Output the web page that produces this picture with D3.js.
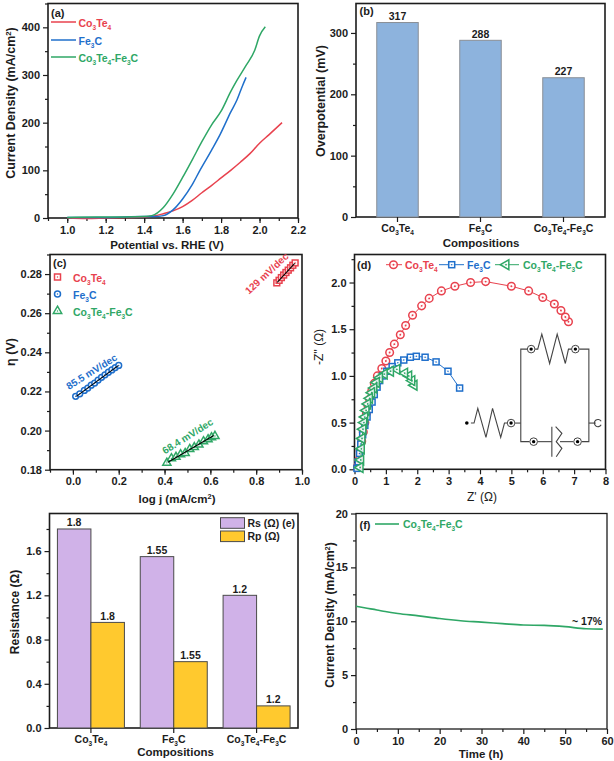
<!DOCTYPE html>
<html><head><meta charset="utf-8">
<script src="https://cdnjs.cloudflare.com/ajax/libs/d3/7.8.5/d3.min.js"></script>
<style>
html,body{margin:0;padding:0;background:#fff}
svg{display:block}
text{font-family:"Liberation Sans",Arial,sans-serif;font-weight:bold;fill:#1c1c1c}
</style></head><body>
<svg id="c" width="614" height="761"></svg>
<script>
// ---------- data ----------
const names = ["Co3Te4","Fe3C","Co3Te4-Fe3C"];
const lsvCo = [[1.0,0],[1.1,-1],[1.2,0],[1.3,1],[1.4,2],[1.45,4],[1.5,9],[1.55,15],[1.6,24],[1.65,37],[1.7,53],[1.75,68],[1.8,84],[1.85,100],[1.9,117],[1.95,135],[2.0,157],[2.05,175],[2.117,200]];
const lsvFe = [[1.0,1],[1.2,1],[1.4,3],[1.45,3],[1.5,5],[1.55,17],[1.6,40],[1.65,70],[1.69,100],[1.75,142],[1.796,176],[1.85,222],[1.883,248],[1.91,276],[1.93,295]];
const lsvCF = [[1.0,1],[1.15,2],[1.3,2],[1.4,3],[1.44,5],[1.5,22],[1.55,50],[1.6,85],[1.65,122],[1.7,160],[1.75,195],[1.8,224],[1.85,265],[1.88,287],[1.93,320],[1.975,352],[2.0,382],[2.03,401]];
const overpotential = [317,288,227];
const tafelCo = [[0.89,0.2755],[0.90,0.2768],[0.91,0.2782],[0.92,0.2795],[0.93,0.2808],[0.94,0.2820],[0.95,0.2832],[0.96,0.2845],[0.97,0.2857]];
const tafelFe = [[0.012,0.2175],[0.03,0.2188],[0.05,0.2205],[0.065,0.2217],[0.08,0.2232],[0.095,0.2243],[0.11,0.2258],[0.125,0.2272],[0.14,0.2285],[0.155,0.2298],[0.17,0.2310],[0.185,0.2322],[0.2,0.2333]];
const tafelCF = [[0.41,0.1835],[0.43,0.1858],[0.45,0.1865],[0.47,0.1878],[0.49,0.1885],[0.51,0.1905],[0.53,0.1915],[0.55,0.1928],[0.57,0.1945],[0.59,0.1955],[0.605,0.1965],[0.62,0.1972]];
const fitCo = [[0.892,0.2758],[0.968,0.2855]];
const fitFe = [[0.015,0.2175],[0.198,0.2332]];
const fitCF = [[0.415,0.1838],[0.615,0.1975]];
const nyqCo = [[6.82,1.58],[6.72,1.63],[6.58,1.70],[6.37,1.77],[6.0,1.84],[5.55,1.91],[5.0,1.96],[4.18,2.01],[3.7,2.0],[3.2,1.96],[2.77,1.91],[2.38,1.83],[2.14,1.75],[1.85,1.65],[1.63,1.54],[1.46,1.44],[1.27,1.34],[1.12,1.25],[1.0,1.16],[0.87,1.08],[0.73,1.0],[0.63,0.92],[0.55,0.84],[0.48,0.75],[0.43,0.68],[0.38,0.6],[0.33,0.5],[0.28,0.4],[0.23,0.3],[0.18,0.2],[0.14,0.1],[0.1,0.03]];
const nyqFe = [[3.35,0.87],[2.98,1.05],[2.6,1.15],[2.25,1.2],[1.97,1.21],[1.78,1.2],[1.57,1.17],[1.38,1.14],[1.2,1.1],[1.03,1.05],[0.9,1.0],[0.8,0.95],[0.72,0.88],[0.63,0.8],[0.56,0.72],[0.47,0.64],[0.4,0.56],[0.33,0.47],[0.26,0.37],[0.2,0.27],[0.16,0.17],[0.12,0.08],[0.08,0.01]];
const nyqCF = [[1.9,0.9],[1.83,0.95],[1.73,1.0],[1.6,1.03],[1.35,1.07],[1.15,1.05],[0.95,1.02],[0.8,0.98],[0.7,0.93],[0.62,0.87],[0.55,0.82],[0.48,0.76],[0.42,0.7],[0.37,0.63],[0.33,0.56],[0.3,0.5],[0.27,0.43],[0.24,0.33],[0.22,0.22],[0.2,0.1],[0.18,0.02]];
const circuitWires = [
 [[3.71,0.495],[3.81,0.495],[3.93,0.652],[4.19,0.342],[4.40,0.652],[4.66,0.342],[4.78,0.495],[4.88,0.495]],
 [[5.12,0.495],[5.30,0.495]],
 [[5.51,1.287],[5.30,1.287],[5.30,0.296],[5.58,0.296]],
 [[5.76,1.287],[5.84,1.287],[5.97,1.447],[6.22,1.133],[6.46,1.447],[6.72,1.133],[6.82,1.287],[6.93,1.287]],
 [[7.17,1.287],[7.47,1.287],[7.47,0.296],[7.24,0.296]],
 [[7.47,0.495],[7.69,0.495]],
 [[5.83,0.296],[6.29,0.296]],
 [[6.29,0.456],[6.29,0.135]],
 [[6.41,0.456],[6.61,0.385],[6.43,0.296],[6.61,0.224],[6.43,0.135]],
 [[6.55,0.296],[6.98,0.296]]
];
const circuitNodes = [[4.99,0.495],[5.63,1.287],[7.04,1.287],[5.71,0.296],[7.11,0.296]];
const circuitEnd = [3.58,0.495];
const rs = [1.8,1.55,1.2];
const rp = [0.955,0.6,0.2];
const rsLabels = ["1.8","1.55","1.2"];
const rpLabels = ["1.8","1.55","1.2"];
const stability = [[0,11.4],[2,11.25],[5,11.05],[7,10.9],[10,10.72],[15,10.5],[20,10.25],[25,10.05],[30,9.92],[35,9.78],[40,9.65],[45,9.62],[50,9.5],[55,9.3],[59,9.27]];

// ---------- style ----------
const RED="#e8424e", BLUE="#1f6fcb", GREEN="#2fa766", INK="#1c1c1c";
const svg=d3.select("#c");

function chem(t,str,size){ // digits become subscripts
  t.attr("font-size",size);
  const parts=str.match(/\d|[^\d]+/g);
  let sub=false;
  parts.forEach(p=>{
    const d=/\d/.test(p);
    const s=t.append("tspan").text(p);
    if(d){s.attr("font-size",size*0.62).attr("dy",size*0.3);sub=true;}
    else if(sub){s.attr("dy",-size*0.3);sub=false;}
  });
  return t;
}
function label(g,x,y,str,o={}){
  const t=g.append("text").attr("x",x).attr("y",y).attr("text-anchor",o.anchor||"start").attr("font-size",o.size||11);
  if(o.fill) t.style("fill",o.fill);
  if(o.rot!==undefined) t.attr("transform",`rotate(${o.rot} ${x} ${y})`);
  if(o.chem) chem(t,str,o.size||11); else t.text(str);
  return t;
}
function panel(p){
  const g=svg.append("g");
  const x=p.xBand?null:d3.scaleLinear().domain(p.xd).range([p.l,p.r]);
  const xi=d3.scaleLinear().domain([0.5,3.5]).range([p.l,p.r]);
  const y=d3.scaleLinear().domain(p.yd).range([p.b,p.t]);
  const fmt=p.xf||(d=>d);
  const ax=g.append("g").attr("transform",`translate(0,${p.b})`);
  if(x){
    ax.append("g").call(d3.axisBottom(x).tickValues(p.xMinor).tickSize(3).tickSizeOuter(0).tickFormat(""));
    ax.append("g").call(d3.axisBottom(x).tickValues(p.xMajor).tickSize(5).tickSizeOuter(0).tickPadding(3).tickFormat(fmt));
  }
  const ay=g.append("g").attr("transform",`translate(${p.l},0)`);
  ay.append("g").call(d3.axisLeft(y).tickValues(p.yMinor).tickSize(3).tickSizeOuter(0).tickFormat(""));
  ay.append("g").call(d3.axisLeft(y).tickValues(p.yMajor).tickSize(5).tickSizeOuter(0).tickPadding(3).tickFormat(p.yf||(d=>d)));
  g.selectAll(".domain").remove();
  g.selectAll(".tick line").attr("stroke",INK).attr("stroke-width",1.2);
  g.selectAll(".tick text").attr("font-size",11).attr("font-family",null).style("fill",INK);
  g.append("rect").attr("x",p.l).attr("y",p.t).attr("width",p.r-p.l).attr("height",p.b-p.t)
    .attr("fill","none").attr("stroke",INK).attr("stroke-width",p.frame||1.6);
  return {g,x,y,xi,b:p.b};
}
const line=(s,curve)=>d3.line().x(d=>s.x(d[0])).y(d=>s.y(d[1])).curve(curve||d3.curveLinear);
function yTitle(g,x,y,size){ // Current Density (mA/cm2)
  const t=g.append("text").attr("text-anchor","middle").attr("x",x).attr("y",y).attr("font-size",size)
    .attr("transform",`rotate(-90 ${x} ${y})`);
  t.append("tspan").text("Current Density (mA/cm");
  t.append("tspan").text("2").attr("font-size",size*0.62).attr("dy",-size*0.35);
  t.append("tspan").text(")").attr("dy",size*0.35);
}
function drawMarker(g,type,px,py,color,r){
  const s=g.append("g").attr("transform",`translate(${px},${py})`);
  const common=e=>e.attr("fill","#fff").attr("fill-opacity",.85).attr("stroke",color).attr("stroke-width",1.5);
  if(type==="circle") common(s.append("circle").attr("r",r));
  if(type==="square") common(s.append("rect").attr("x",-r).attr("y",-r).attr("width",2*r).attr("height",2*r));
  if(type==="up") common(s.append("path").attr("d",d3.symbol(d3.symbolTriangle,r*r*3.4)()));
  if(type==="left") common(s.append("path").attr("d",d3.symbol(d3.symbolTriangle,r*r*3.4)()).attr("transform","rotate(-90)"));
  s.append("circle").attr("r",Math.max(.7,r*.25)).attr("fill",color);
}

// ---------- (a) ----------
{
 const P=panel({l:48,r:298,t:3.5,b:218,xd:[0.9,2.2],yd:[0,450],
   xMajor:d3.range(1,2.21,0.2),xMinor:d3.range(0.9,2.21,0.1),xf:d3.format(".1f"),
   yMajor:[0,100,200,300,400],yMinor:[50,150,250,350,450]});
 [[lsvCo,RED],[lsvFe,BLUE],[lsvCF,GREEN]].forEach(([d,c])=>
   P.g.append("path").datum(d).attr("d",line(P,d3.curveMonotoneX)).attr("fill","none").attr("stroke",c).attr("stroke-width",1.5));
 label(P.g,51,17,"(a)",{size:11});
 [[22,RED],[40,BLUE],[57,GREEN]].forEach(([yy,c],i)=>{
   P.g.append("line").attr("x1",51).attr("x2",76).attr("y1",yy).attr("y2",yy).attr("stroke",c).attr("stroke-width",1.5);
   label(P.g,78.5,yy+4.5,names[i],{chem:true,size:10.5,fill:c});
 });
 yTitle(P.g,15,103,12.5);
 label(P.g,167,249,"Potential vs. RHE (V)",{anchor:"middle",size:11.5});
}
// ---------- (b) ----------
{
 const P=panel({l:356,r:605,t:3.5,b:217,xBand:true,yd:[0,348],
   yMajor:[0,100,200,300],yMinor:[50,150,250]});
 const w=(P.xi(1.5)-P.xi(1))*2*0.5;
 P.g.selectAll(".bar").data(overpotential).join("rect").attr("class","bar")
   .attr("x",(d,i)=>P.xi(i+1)-w/2).attr("width",w).attr("y",d=>P.y(d)).attr("height",d=>P.y(0)-P.y(d))
   .attr("fill","#8db3dd").attr("stroke","#8a8f96").attr("stroke-width",1);
 overpotential.forEach((v,i)=>{
   label(P.g,P.xi(i+1),P.y(v)-2.5,String(v),{anchor:"middle",size:10.5});
   P.g.append("line").attr("x1",P.xi(i+1)).attr("x2",P.xi(i+1)).attr("y1",P.b).attr("y2",P.b+5).attr("stroke",INK).attr("stroke-width",1.2);
   label(P.g,P.xi(i+1),P.b+15,names[i],{anchor:"middle",chem:true,size:10.5});
 });
 label(P.g,359.5,15,"(b)",{size:11});
 label(P.g,481,247,"Compositions",{anchor:"middle",size:11.5});
 label(P.g,325,101,"Overpotential (mV)",{anchor:"middle",size:12.5,rot:-90});
}
// ---------- (c) ----------
{
 const P=panel({l:50,r:302,t:254.5,b:469.7,xd:[-0.1,1.0],yd:[0.18,0.29],
   xMajor:[0,0.2,0.4,0.6,0.8,1.0],xMinor:d3.range(-0.1,1.01,0.1),xf:d3.format(".1f"),
   yMajor:[0.18,0.2,0.22,0.24,0.26,0.28],yMinor:[0.19,0.21,0.23,0.25,0.27,0.29],yf:d3.format(".2f")});
 [[tafelCo,"square",RED,fitCo],[tafelFe,"circle",BLUE,fitFe],[tafelCF,"up",GREEN,fitCF]].forEach(([d,m,c,f])=>{
   d.forEach(q=>drawMarker(P.g,m,P.x(q[0]),P.y(q[1]),c,2.9));
   P.g.append("path").datum(f).attr("d",line(P)).attr("fill","none").attr("stroke","#000").attr("stroke-width",1.1);
 });
 label(P.g,53,267,"(c)",{size:11});
 [[277,"square",RED],[294,"circle",BLUE],[311,"up",GREEN]].forEach(([yy,m,c],i)=>{
   drawMarker(P.g,m,57.5,yy,c,3);
   label(P.g,73,yy+4.5,names[i],{chem:true,size:10.5,fill:c});
 });
 label(P.g,P.x(0.7686),P.y(0.2694),"129 mV/dec",{size:10,fill:RED,rot:-43});
 label(P.g,P.x(-0.017),P.y(0.2208),"85.5 mV/dec",{size:10,fill:BLUE,rot:-32});
 label(P.g,P.x(0.402),P.y(0.1878),"68.4 mV/dec",{size:10,fill:GREEN,rot:-32});
 const t=label(P.g,177,503,"log j (mA/cm",{anchor:"middle",size:11.5});
 t.append("tspan").text("2").attr("font-size",7.5).attr("dy",-4);
 t.append("tspan").text(")").attr("dy",4);
 label(P.g,15,352,"η (V)",{anchor:"middle",size:12.5,rot:-90});
}
// ---------- (d) ----------
{
 const P=panel({l:354.5,r:605.5,t:254.5,b:469.3,xd:[0,8],yd:[0,2.3],
   xMajor:[0,1,2,3,4,5,6,7,8],xMinor:d3.range(0.5,8,1),
   yMajor:[0,0.5,1,1.5,2],yMinor:[0.25,0.75,1.25,1.75,2.25],yf:d3.format(".1f")});
 [[nyqCo,"circle",RED,3.8],[nyqFe,"square",BLUE,3],[nyqCF,"left",GREEN,3.5]].forEach(([d,m,c,r])=>{
   P.g.append("path").datum(d).attr("d",line(P)).attr("fill","none").attr("stroke",c).attr("stroke-width",1);
   d.forEach(q=>drawMarker(P.g,m,P.x(q[0]),P.y(q[1]),c,r));
 });
 label(P.g,357,269,"(d)",{size:11});
 [[386,402,393.5,"circle",RED,3.8,405],[439,464,451.7,"square",BLUE,3,467],[495,519,506,"left",GREEN,3.5,523]].forEach(([a,b,m,k,c,r,tx],i)=>{
   P.g.append("line").attr("x1",a).attr("x2",b).attr("y1",264.7).attr("y2",264.7).attr("stroke",c).attr("stroke-width",1);
   drawMarker(P.g,k,m,264.7,c,r);
   label(P.g,tx,269,names[i],{chem:true,size:10.5,fill:c});
 });
 circuitWires.forEach(w=>P.g.append("path").datum(w).attr("d",line(P)).attr("fill","none").attr("stroke","#444").attr("stroke-width",1.1));
 circuitNodes.forEach(n=>{
   P.g.append("circle").attr("cx",P.x(n[0])).attr("cy",P.y(n[1])).attr("r",3.8).attr("fill","#fff").attr("stroke","#444").attr("stroke-width",1);
   P.g.append("circle").attr("cx",P.x(n[0])).attr("cy",P.y(n[1])).attr("r",1.7).attr("fill","#000");
 });
 P.g.append("circle").attr("cx",P.x(circuitEnd[0])).attr("cy",P.y(circuitEnd[1])).attr("r",1.8).attr("fill","#000");
 P.g.append("path").attr("d",d3.arc()({innerRadius:3.6,outerRadius:3.6,startAngle:0.5,endAngle:Math.PI*2-0.5}))
   .attr("transform",`translate(${P.x(7.76)},${P.y(0.495)}) rotate(90)`).attr("fill","none").attr("stroke","#444").attr("stroke-width",1.1);
 label(P.g,482,501,"Z' (Ω)",{anchor:"middle",size:12}).style("font-weight","normal");
 label(P.g,323,347,"-Z'' (Ω)",{anchor:"middle",size:12,rot:-90}).style("font-weight","normal");
}
// ---------- (e) ----------
{
 const P=panel({l:49.5,r:298,t:513.5,b:728,xBand:true,yd:[0,1.94],
   yMajor:[0,0.4,0.8,1.2,1.6],yMinor:[0.2,0.6,1.0,1.4,1.8],yf:d3.format(".1f")});
 const w=33.5;
 const PUR="#d0b2e8", YEL="#ffc92e", ST="#4a4a4a";
 rs.forEach((v,i)=>{
   const cx=P.xi(i+1);
   P.g.append("rect").attr("x",cx-w).attr("width",w).attr("y",P.y(v)).attr("height",P.y(0)-P.y(v)).attr("fill",PUR).attr("stroke",ST).attr("stroke-width",1);
   P.g.append("rect").attr("x",cx).attr("width",w).attr("y",P.y(rp[i])).attr("height",P.y(0)-P.y(rp[i])).attr("fill",YEL).attr("stroke",ST).attr("stroke-width",1);
   label(P.g,cx-w/2,P.y(v)-2.5,rsLabels[i],{anchor:"middle",size:10.5});
   label(P.g,cx+w/2,P.y(rp[i])-2.5,rpLabels[i],{anchor:"middle",size:10.5});
   P.g.append("line").attr("x1",cx).attr("x2",cx).attr("y1",P.b).attr("y2",P.b+5).attr("stroke",INK).attr("stroke-width",1.2);
   label(P.g,cx,P.b+15,names[i],{anchor:"middle",chem:true,size:10.5});
 });
 [[517.7,PUR,"Rs (Ω) (e)"],[531,YEL,"Rp (Ω)"]].forEach(([yy,c,s])=>{
   P.g.append("rect").attr("x",220.5).attr("y",yy).attr("width",24).attr("height",10.6).attr("fill",c).attr("stroke",ST).attr("stroke-width",1);
   label(P.g,247.5,yy+9,s,{size:10.5});
 });
 label(P.g,19,612,"Resistance (Ω)",{anchor:"middle",size:12,rot:-90});
 label(P.g,175.5,756,"Compositions",{anchor:"middle",size:11.5});
}
// ---------- (f) ----------
{
 const P=panel({l:356,r:607,t:513.5,b:729,xd:[0,60],yd:[0,20],frame:1.3,
   xMajor:d3.range(0,61,10),xMinor:d3.range(5,60,10),
   yMajor:[0,5,10,15,20],yMinor:[2.5,7.5,12.5,17.5]});
 P.g.append("path").datum(stability).attr("d",line(P,d3.curveMonotoneX)).attr("fill","none").attr("stroke",GREEN).attr("stroke-width",1.6);
 label(P.g,359.5,529,"(f)",{size:11});
 P.g.append("line").attr("x1",375).attr("x2",399).attr("y1",524).attr("y2",524).attr("stroke",GREEN).attr("stroke-width",1.6);
 label(P.g,403,528,names[2],{chem:true,size:10.5,fill:GREEN});
 label(P.g,572,625,"~ 17%",{size:10.5});
 yTitle(P.g,334,615,12);
 label(P.g,481,758,"Time (h)",{anchor:"middle",size:11.5});
}
</script>
</body></html>
